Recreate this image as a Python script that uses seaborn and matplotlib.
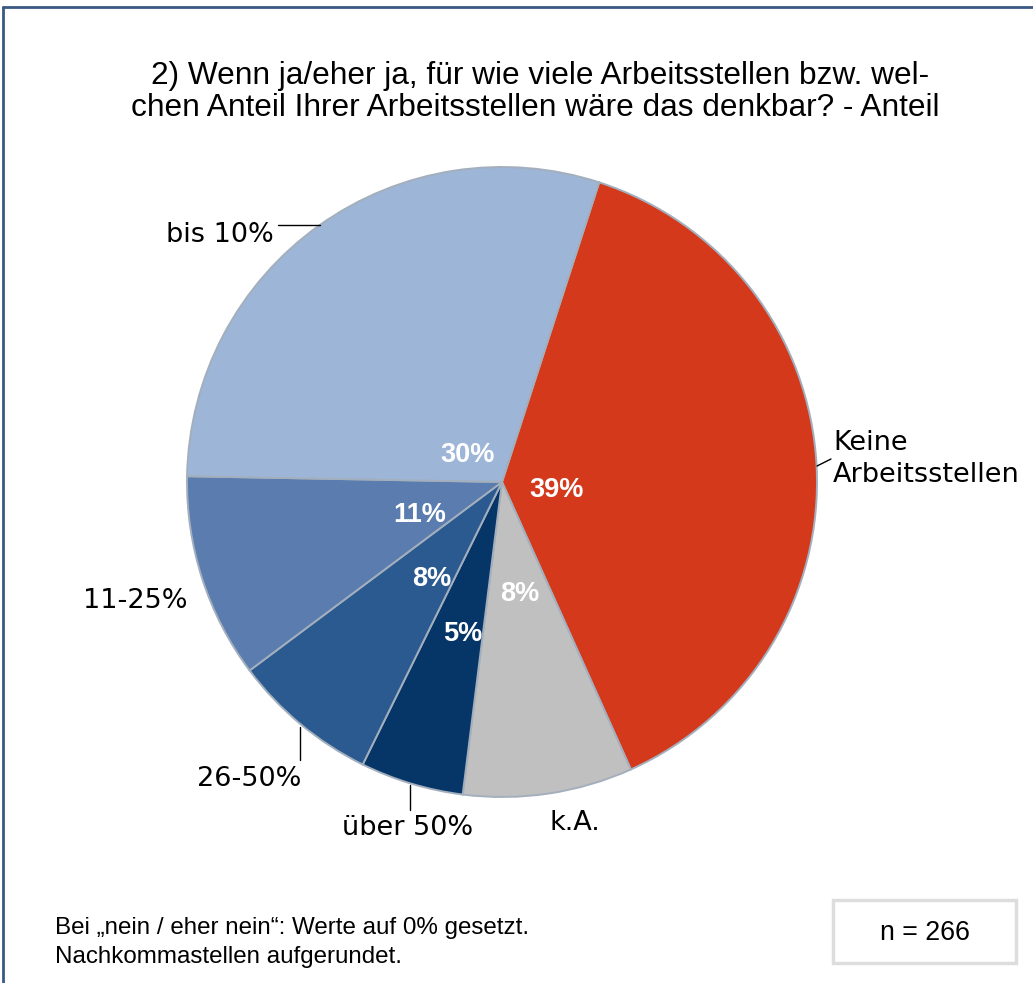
import matplotlib
matplotlib.use("Agg")
import matplotlib.pyplot as plt
import numpy as np
import seaborn as sns

# ---- data ----
categories = ["Keine\nArbeitsstellen", "k.A.", "über 50%", "26-50%", "11-25%", "bis 10%"]
shares = [38.3, 8.7, 5.3, 7.5, 10.5, 29.7]          # share of respondents (%)
pct_labels = ["39%", "8%", "5%", "8%", "11%", "30%"]  # displayed (rounded up)
colors = ["#D4391C", "#C0C0C0", "#063568", "#2A5A8F", "#5A7CAF", "#9DB5D6"]
title_lines = ["2) Wenn ja/eher ja, für wie viele Arbeitsstellen bzw. wel-",
               "chen Anteil Ihrer Arbeitsstellen wäre das denkbar? - Anteil"]
footnote = ["Bei „nein / eher nein“: Werte auf 0% gesetzt.",
            "Nachkommastellen aufgerundet."]
n_text = "n = 266"

sns.set_theme(style="white")
plt.rcParams["font.family"] = ["Liberation Sans", "DejaVu Sans"]
plt.rcParams["text.color"] = "black"

W, H = 1033, 983
fig = plt.figure(figsize=(W / 100, H / 100), dpi=100)
ax = fig.add_axes([0, 0, 1, 1])

def Y(py):
    return H - py

cx, cy, R = 502, 482, 315
start = 90 - 17.97
wedges, _ = ax.pie(shares, colors=colors, startangle=start, counterclock=False,
                   center=(cx, Y(cy)), radius=R, frame=True,
                   wedgeprops=dict(edgecolor="#A3AFBD", linewidth=1.4))
ax.set_xlim(0, W)
ax.set_ylim(0, H)
ax.set_aspect("equal")
ax.axis("off")

# percentage labels inside wedges (offsets from pie centre, screen px)
lab_off = [(55, 8), (18, 112), (-39, 152), (-70, 97), (-82, 33), (-34, -27)]
for lab, (dx, dy) in zip(pct_labels, lab_off):
    ax.text(cx + dx, Y(cy + dy), lab, ha="center", va="center", color="white",
            fontsize=19.5, fontweight="bold")

# outer category labels
lab_font = dict(family="DejaVu Sans", fontsize=19.5, color="black")
ax.text(833, Y(459), categories[0], ha="left", va="center", linespacing=1.3, **lab_font)
ax.text(575, Y(823), categories[1], ha="center", va="center", **lab_font)
ax.text(408, Y(828), categories[2], ha="center", va="center", **lab_font)
ax.text(249, Y(779), categories[3], ha="center", va="center", **lab_font)
ax.text(135, Y(601), categories[4], ha="center", va="center", **lab_font)
ax.text(220, Y(235), categories[5], ha="center", va="center", **lab_font)

# leader lines
lc = dict(color="black", linewidth=1.0)
ax.plot([278, 320], [Y(225), Y(225)], **lc)
ax.plot([817, 831], [Y(466), Y(459)], **lc)
ax.plot([300, 300], [Y(727), Y(760)], **lc)
ax.plot([410, 410], [Y(785), Y(810)], **lc)

# title
ax.text(540, Y(76), title_lines[0], ha="center", va="center", fontsize=22.8)
ax.text(535, Y(108), title_lines[1], ha="center", va="center", fontsize=22.8)

# footnote
ax.text(55, Y(928), footnote[0], ha="left", va="center", fontsize=17.4)
ax.text(55, Y(957), footnote[1], ha="left", va="center", fontsize=17.4)

# n box
ax.add_patch(plt.Rectangle((833, Y(963)), 183, 63, facecolor="white",
                           edgecolor="#DDDDDD", linewidth=2.5))
ax.text(925, Y(933), n_text, ha="center", va="center", fontsize=19.3)

# frame lines (top / left)
ax.plot([3, W], [Y(7), Y(7)], color="#3A5A85", linewidth=2)
ax.plot([3, 3], [Y(7), 0], color="#3A5A85", linewidth=2)

fig.savefig("out.png", dpi=100)
